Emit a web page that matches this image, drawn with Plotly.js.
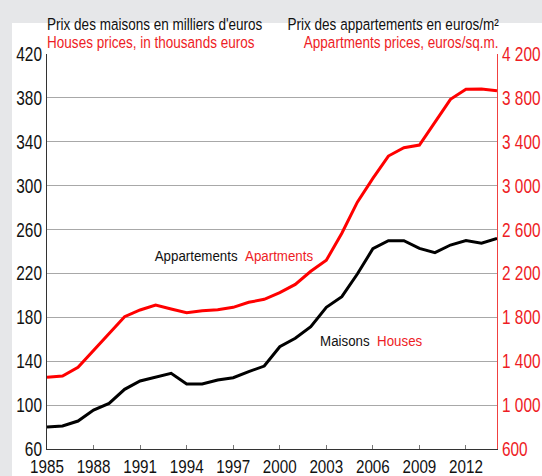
<!DOCTYPE html>
<html>
<head>
<meta charset="utf-8">
<script src="https://cdn.plot.ly/plotly-3.0.1.min.js"></script>
<style>
  html, body { margin: 0; padding: 0; background: #e6e7e9; }
  #chart { width: 542px; height: 476px; }
</style>
</head>
<body>
<div id="chart"></div>
<script>
// ---- Data ----
const years = [1985, 1986, 1987, 1988, 1989, 1990, 1991, 1992, 1993, 1994,
               1995, 1996, 1997, 1998, 1999, 2000, 2001, 2002, 2003, 2004,
               2005, 2006, 2007, 2008, 2009, 2010, 2011, 2012, 2013, 2014];

// Houses prices, in thousands euros (left axis)
const housesPrices = [80, 81, 85.5, 95.5, 101.6, 114.4, 122, 125.3, 129, 119.2,
                      119.2, 122.9, 125, 130.5, 135.6, 153.2, 160.9, 171.5, 189.1, 198.8,
                      219.5, 242.5, 249.9, 249.9, 242.9, 238.9, 245.9, 250, 247.5, 252];

// Apartments prices, euros per sq.m. (right axis)
const apartmentsPrices = [1253, 1265, 1345, 1502, 1654, 1806, 1867, 1912, 1876, 1842,
                          1860, 1870, 1891, 1937, 1964, 2025, 2100, 2220, 2320, 2566,
                          2850, 3067, 3270, 3346, 3370, 3574, 3787, 3878, 3881, 3866];

const xTickVals = [1985, 1988, 1991, 1994, 1997, 2000, 2003, 2006, 2009, 2012];
const xTickText = ['1985', '1988', '1991', '1994', '1997', '2000', '2003', '2006', '2009', '2012'];

const leftTickVals = [60, 100, 140, 180, 220, 260, 300, 340, 380, 420];
const leftTickText = ['60', '100', '140', '180', '220', '260', '300', '340', '380', '420'];

const rightTickVals = [600, 1000, 1400, 1800, 2200, 2600, 3000, 3400, 3800, 4200];
const rightTickText = ['600', '1 000', '1 400', '1 800', '2 200', '2 600', '3 000', '3 400', '3 800', '4 200'];

const titleLeftFr = "Prix des maisons en milliers d'euros";
const titleLeftEn = "Houses prices, in thousands euros";
const titleRightFr = "Prix des appartements en euros/m²";
const titleRightEn = "Appartments prices, euros/sq.m.";
const labelApptFr = "Appartements";
const labelApptEn = "Apartments";
const labelHouseFr = "Maisons";
const labelHouseEn = "Houses";

// ---- Styling ----
const FONT = '"Liberation Sans", Arial, sans-serif';
const RED = '#ff0000';
const RED_TEXT = '#ee1c25';

const traces = [
  {
    x: years, y: housesPrices, type: 'scatter', mode: 'lines',
    line: {color: '#000000', width: 3}, yaxis: 'y', hoverinfo: 'skip'
  },
  {
    x: years, y: apartmentsPrices, type: 'scatter', mode: 'lines',
    line: {color: RED, width: 3}, yaxis: 'y2', hoverinfo: 'skip'
  }
];

const layout = {
  width: 542, height: 476,
  margin: {l: 47, r: 45, t: 54, b: 27, pad: 0},
  paper_bgcolor: '#e6e7e9',
  plot_bgcolor: '#ffffff',
  showlegend: false,
  font: {family: FONT, color: '#111111', size: 20},
  xaxis: {
    range: [1985, 2014], fixedrange: true,
    tickmode: 'array', tickvals: xTickVals, ticktext: xTickText,
    ticks: 'inside', ticklen: 4, tickcolor: '#777777', tickwidth: 1,
    showline: true, linecolor: '#333333', linewidth: 1,
    showgrid: false, zeroline: false,
    tickfont: {family: FONT, size: 19, color: '#111111'}
  },
  yaxis: {
    range: [60, 420], fixedrange: true,
    tickmode: 'array', tickvals: leftTickVals, ticktext: leftTickText,
    ticks: '', showline: true, linecolor: '#333333', linewidth: 1,
    showgrid: true, gridcolor: '#a8a8a8', gridwidth: 1, zeroline: false,
    tickfont: {family: FONT, size: 20, color: '#111111'}
  },
  yaxis2: {
    range: [600, 4200], fixedrange: true, overlaying: 'y', side: 'right',
    tickmode: 'array', tickvals: rightTickVals, ticktext: rightTickText,
    ticks: '', showline: true, linecolor: '#f04040', linewidth: 1,
    showgrid: false, zeroline: false,
    tickfont: {family: FONT, size: 20, color: RED_TEXT}
  },
  shapes: [
    {type: 'rect', xref: 'paper', yref: 'paper', x0: -0.0778, x1: 1.11, y0: -0.08, y1: 1.0785,
     fillcolor: '#ffffff', line: {width: 0}, layer: 'below'}
  ],
  annotations: [
    {text: titleLeftFr, xref: 'paper', yref: 'paper', x: -0.002, y: 1.076,
     xanchor: 'left', yanchor: 'middle', showarrow: false, borderpad: 0,
     font: {family: FONT, size: 16.5, color: '#111111'}},
    {text: titleLeftEn, xref: 'paper', yref: 'paper', x: -0.002, y: 1.030,
     xanchor: 'left', yanchor: 'middle', showarrow: false, borderpad: 0,
     font: {family: FONT, size: 16.5, color: RED_TEXT}},
    {text: titleRightFr, xref: 'paper', yref: 'paper', x: 1.0067, y: 1.076,
     xanchor: 'right', yanchor: 'middle', showarrow: false, borderpad: 0,
     font: {family: FONT, size: 16.5, color: '#111111'}},
    {text: titleRightEn, xref: 'paper', yref: 'paper', x: 1.0067, y: 1.030,
     xanchor: 'right', yanchor: 'middle', showarrow: false, borderpad: 0,
     font: {family: FONT, size: 16.5, color: RED_TEXT}},
    {text: labelApptFr + '  <span style="color:' + RED_TEXT + '">' + labelApptEn + '</span>',
     xref: 'x', yref: 'y', x: 1991.9, y: 236.8,
     xanchor: 'left', yanchor: 'middle', showarrow: false, borderpad: 0,
     font: {family: FONT, size: 15.5, color: '#111111'}},
    {text: labelHouseFr + '  <span style="color:' + RED_TEXT + '">' + labelHouseEn + '</span>',
     xref: 'x', yref: 'y', x: 2002.55, y: 159.3,
     xanchor: 'left', yanchor: 'middle', showarrow: false, borderpad: 0,
     font: {family: FONT, size: 15.5, color: '#111111'}}
  ]
};

// Narrow the text horizontally (the reference uses a condensed typeface).
function squeeze(el, s, mode) {
  const b = el.getBBox();
  const px = mode === 'left' ? b.x : (mode === 'right' ? b.x + b.width : b.x + b.width / 2);
  const t = el.getAttribute('transform') || '';
  el.setAttribute('transform',
    (t + ' translate(' + px + ',0) scale(' + s + ',1) translate(' + (-px) + ',0)').trim());
}

Plotly.newPlot('chart', traces, layout, {displayModeBar: false, staticPlot: true}).then(function (gd) {
  gd.querySelectorAll('g.xtick text').forEach(function (el) { squeeze(el, 0.8, 'center'); });
  gd.querySelectorAll('g.ytick text').forEach(function (el) { squeeze(el, 0.77, 'right'); });
  gd.querySelectorAll('g.y2tick text').forEach(function (el) { squeeze(el, 0.77, 'left'); });
  const modes = ['left', 'left', 'right', 'right', 'left', 'left'];
  const scales = [0.82, 0.82, 0.82, 0.82, 0.86, 0.86];
  gd.querySelectorAll('g.annotation').forEach(function (g, i) {
    const el = g.querySelector('text.annotation-text');
    if (el && i < modes.length) squeeze(el, scales[i], modes[i]);
  });
});
</script>
</body>
</html>
